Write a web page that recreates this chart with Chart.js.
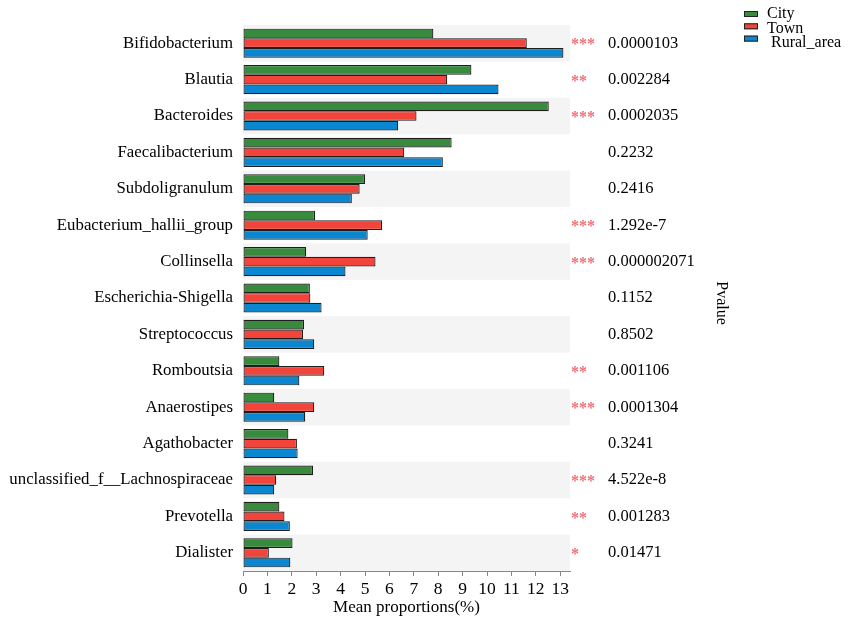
<!DOCTYPE html>
<html>
<head>
<meta charset="utf-8">
<script src="https://cdn.jsdelivr.net/npm/chart.js@4.4.1/dist/chart.umd.min.js"></script>
<style>
  html, body { margin: 0; padding: 0; background: #fff; }
  #wrap { width: 851px; height: 622px; }
</style>
</head>
<body>
<div id="wrap"><canvas id="chart" width="851" height="622"></canvas></div>
<script>
// genus names, top to bottom
const genera = ['Bifidobacterium', 'Blautia', 'Bacteroides', 'Faecalibacterium', 'Subdoligranulum',
  'Eubacterium_hallii_group', 'Collinsella', 'Escherichia-Shigella', 'Streptococcus', 'Romboutsia',
  'Anaerostipes', 'Agathobacter', 'unclassified_f__Lachnospiraceae', 'Prevotella', 'Dialister'];

const groups = ['City', 'Town', 'Rural_area'];

// mean proportions (%)
const city  = [7.80, 9.36, 12.53, 8.55, 5.00, 2.95, 2.59, 2.74, 2.50, 1.49, 1.28, 1.86, 2.87, 1.49, 2.03];
const town  = [11.63, 8.37, 7.11, 6.61, 4.78, 5.70, 5.43, 2.76, 2.46, 3.33, 2.92, 2.21, 1.36, 1.70, 1.06];
const rural = [13.13, 10.47, 6.36, 8.19, 4.46, 5.11, 4.20, 3.22, 2.92, 2.31, 2.55, 2.24, 1.28, 1.92, 1.94];

const stars  = ['***', '**', '***', '', '', '***', '***', '', '', '**', '***', '', '***', '**', '*'];
const pvalues = ['0.0000103', '0.002284', '0.0002035', '0.2232', '0.2416', '1.292e-7', '0.000002071',
  '0.1152', '0.8502', '0.001106', '0.0001304', '0.3241', '4.522e-8', '0.001283', '0.01471'];

const xTicks = [0, 1, 2, 3, 4, 5, 6, 7, 8, 9, 10, 11, 12, 13];

const colors = ['#388a3d', '#f2443a', '#0b87d2'];
const serif = "'Liberation Serif', 'Times New Roman', serif";

// alternating grey bands behind each genus row
const bandPlugin = {
  id: 'bands',
  beforeDatasetsDraw(chart) {
    const { ctx, chartArea, scales } = chart;
    const step = chartArea.height / genera.length;
    ctx.save();
    ctx.fillStyle = '#f4f4f4';
    genera.forEach((g, i) => {
      if (i % 2 !== 0) return;
      const y = scales.y.getPixelForValue(i);
      ctx.fillRect(chartArea.left, y - step / 2, chartArea.right - chartArea.left, step);
    });
    ctx.restore();
  }
};

// significance stars, p-values, legend and the Pvalue label
const sidePlugin = {
  id: 'side',
  afterDraw(chart) {
    const { ctx, chartArea, scales } = chart;
    ctx.save();
    ctx.textBaseline = 'middle';
    genera.forEach((g, i) => {
      const y = scales.y.getPixelForValue(i);
      ctx.fillStyle = '#f07078';
      ctx.font = 'bold 16px ' + serif;
      ctx.textAlign = 'left';
      ctx.fillText(stars[i], chartArea.right + 1, y + 2);
      ctx.fillStyle = '#000';
      ctx.font = '16.5px ' + serif;
      ctx.fillText(pvalues[i], chartArea.right + 38, y);
    });

    // legend
    ctx.textBaseline = 'alphabetic';
    ctx.font = '16px ' + serif;
    groups.forEach((name, i) => {
      const by = 11 + i * 12.3;
      ctx.fillStyle = colors[i];
      ctx.fillRect(744, by, 14, 6);
      ctx.strokeStyle = '#222';
      ctx.lineWidth = 1;
      ctx.strokeRect(744.5, by + 0.5, 13, 5);
      ctx.fillStyle = '#000';
      ctx.fillText(name, i === 2 ? 771 : 767, 18 + i * 14.5);
    });

    // rotated axis label
    ctx.translate(721, 303);
    ctx.rotate(Math.PI / 2);
    ctx.textAlign = 'center';
    ctx.textBaseline = 'middle';
    ctx.font = '16px ' + serif;
    ctx.fillText('Pvalue', 0, 0);
    ctx.restore();
  }
};

const series = [city, town, rural];

new Chart(document.getElementById('chart'), {
  type: 'bar',
  data: {
    labels: genera,
    datasets: groups.map((name, i) => ({
      label: name,
      data: series[i],
      backgroundColor: colors[i],
      borderColor: '#1e1e1e',
      borderWidth: 1.2,
      borderSkipped: false,
      categoryPercentage: 0.8,
      barPercentage: 1.0
    }))
  },
  options: {
    indexAxis: 'y',
    responsive: false,
    animation: false,
    layout: { padding: { top: 25, right: 281, left: 0, bottom: 0 } },
    plugins: {
      legend: { display: false },
      tooltip: { enabled: false }
    },
    scales: {
      x: {
        min: 0,
        max: 13.4,
        afterFit(s) { s.height = 51; },
        afterBuildTicks(s) { s.ticks = xTicks.map(v => ({ value: v })); },
        ticks: { autoSkip: false, maxRotation: 0, color: '#000', padding: 3, font: { family: serif, size: 17.5 } },
        grid: { display: true, drawOnChartArea: false, tickLength: 5, color: '#888' },
        border: { display: true, color: '#888' },
        title: {
          display: true,
          text: 'Mean proportions(%)',
          color: '#000',
          font: { family: serif, size: 17 },
          padding: { top: 0, bottom: 4 }
        }
      },
      y: {
        afterFit(s) { s.width = 243; },
        ticks: { color: '#000', padding: 2, font: { family: serif, size: 16.8 } },
        grid: { display: false },
        border: { display: false }
      }
    }
  },
  plugins: [bandPlugin, sidePlugin]
});
</script>
</body>
</html>
